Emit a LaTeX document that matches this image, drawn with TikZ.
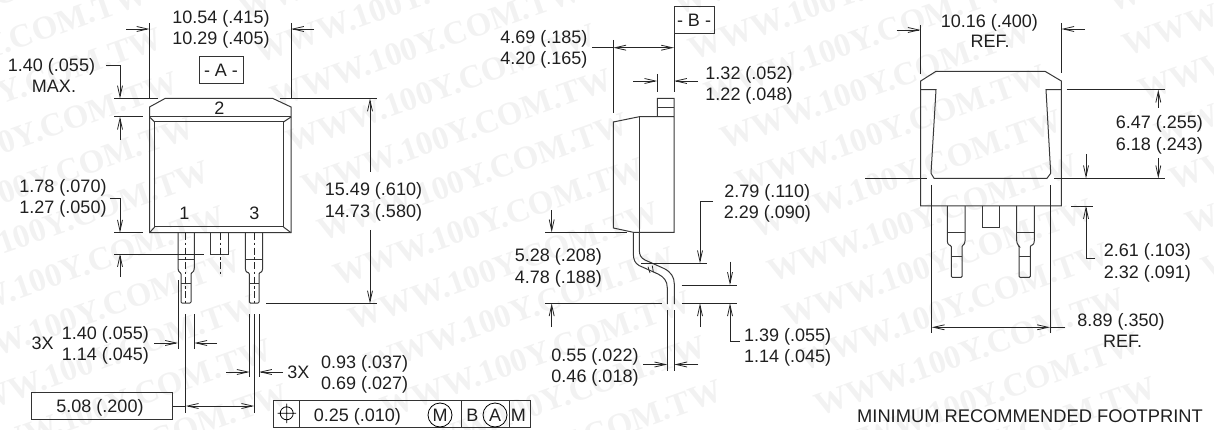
\documentclass[tikz,border=0pt]{standalone}
\usepackage{fontspec}
\setmainfont{Liberation Sans}
\newfontfamily\markfont{Liberation Serif}
\usetikzlibrary{arrows.meta}
\tikzset{
  lbl/.style={inner sep=0pt,text height=13pt,text depth=0pt,text=black!88,font=\fontsize{18}{20}\selectfont},
  outline/.style={line width=1pt,draw=black!78},
  dim/.style={line width=0.8pt,draw=black!85},
  tip/.style={dim,-{Straight Barb[length=11pt,width=5pt]}},
  tips/.style={dim,{Straight Barb[length=11pt,width=5pt]}-{Straight Barb[length=11pt,width=5pt]}},
  centreline/.style={line width=0.8pt,draw=black!85,dash pattern=on 7pt off 2.5pt on 2.5pt off 2.5pt},
  framebox/.style={line width=1pt,draw=black!80},
  wmark/.style={inner sep=0pt,anchor=south west,rotate=19.5,text=black!5,font=\fontsize{33}{35}\selectfont\markfont\bfseries}
}
\begin{document}
\begin{tikzpicture}[x=1pt,y=-1pt]
\clip (0,0) rectangle (1214,430);

% Watermark
\foreach \i/\jfirst/\jlast in {-2/-13/-2,-1/-10/1,0/-7/4,1/-4/2}
  \foreach \j in {\jfirst,...,\jlast}
    \node[wmark] (mark\i\j) at ({788+387*\i+15.7*\j},{328-137*\i+44.5*\j}) {WWW.100Y.COM.TW};

% Left view: body
\draw[outline] (149.5,232.7) -- (149.5,107) -- (165,98.5) -- (273,98.5) -- (291,107) -- (291,232.7) -- cycle;
\draw[outline] (149.5,117) -- (291,117);
\draw[outline] (154.7,227) rectangle (283.5,122);
\draw[outline] (149.5,117) -- (154.7,122) (291,117) -- (283.5,122) (149.5,232.7) -- (154.7,227) (291,232.7) -- (283.5,227);
\draw[outline] (210.7,232.7) -- (210.7,254) -- (228.7,254) -- (228.7,232.7);
\draw[centreline] (220,233) -- (220,274);

% Pins of left and right views
\foreach \wl/\wr/\nl/\nr/\ytop/\ymid/\yn/\ylow/\ybot in {178/194.3/181/191/232.7/259/269/283.3/303,
    245.3/262.7/249.3/259/232.7/259/269/283.3/303,
    947.3/965/951.3/962/206/232.7/241.7/256.7/277.3,
    1016.7/1034.3/1019/1030.3/206/232.7/241.7/256.7/277.3} {
  \draw[outline,rounded corners=1pt] (\wl,\ytop) -- (\wl,\yn) -- ({\wl+1},\yn+3) -- (\nl,\yn+4) -- (\nl,\ybot) -- (\nr,\ybot) -- (\nr,\yn+4) -- ({\wr-1},\yn+3) -- (\wr,\yn) -- (\wr,\ytop);
  \draw[outline] (\wl,\ymid) -- (\wr,\ymid) (\nl,\ylow) -- (\nr,\ylow);
}
\draw[centreline] (185.7,233) -- (185.7,303);
\draw[centreline] (254.2,233) -- (254.2,303);

% Left view: dimensions
\draw[dim] (149.5,23) -- (149.5,98) (291,23) -- (291,98);
\draw[tip] (126,29) -- (149.5,29);
\draw[tip] (314,29) -- (291,29);
\draw[tip] (106,65) -- (120,65) -- (120,98.5);
\draw[dim] (114,98.5) -- (158,98.5) (114,116.7) -- (143,116.7) (280,98.5) -- (377,98.5);
\draw[tip] (120,140) -- (120,116.7);
\draw[tip] (370,172) -- (370,98.5);
\draw[tip] (370,230) -- (370,303.5);
\draw[dim] (266,303.5) -- (377,303.5);
\draw[tip] (110,198) -- (120,198) -- (120,232.7);
\draw[dim] (114,232.7) -- (143,232.7) (114,254) -- (204,254);
\draw[tip] (120,277) -- (120,254);
\draw[dim] (178,280) -- (178,349) (194.3,314) -- (194.3,349);
\draw[dim] (249.7,314) -- (249.7,377) (259,314) -- (259,377);
\draw[dim] (185.7,314) -- (185.7,413) (254.3,314) -- (254.3,413);
\draw[tip] (154,343) -- (178,343);
\draw[tip] (217,343) -- (194.3,343);
\draw[tip] (226,372) -- (249.7,372);
\draw[tip] (283,372) -- (259,372);
\draw[dim] (172.5,406) -- (185.7,406);
\draw[tips] (185.7,406) -- (254.3,406);

% Left view: labels
\node[lbl] (widthA) at (221,17.5) {10.54 (.415)};
\node[lbl] (widthB) at (221,38.5) {10.29 (.405)};
\node[lbl,draw=black!80,line width=1pt,minimum width=44pt,minimum height=26.5pt] (datumA) at (221,70) {- A -};
\node[lbl] (tabA) at (51.5,65) {1.40 (.055)};
\node[lbl] (tabB) at (54,85.7) {MAX.};
\node[lbl] (pinlenA) at (63,186) {1.78 (.070)};
\node[lbl] (pinlenB) at (63,207) {1.27 (.050)};
\node[lbl] (heightA) at (373.5,189.3) {15.49 (.610)};
\node[lbl] (heightB) at (373.5,210.7) {14.73 (.580)};
\node[lbl] (pinone) at (184.3,213) {1};
\node[lbl] (pintwo) at (219.3,107.7) {2};
\node[lbl] (pinthree) at (254.3,213) {3};
\node[lbl] (threeXa) at (42.7,342.7) {3X};
\node[lbl] (pinwA) at (105.3,333.3) {1.40 (.055)};
\node[lbl] (pinwB) at (105.3,354) {1.14 (.045)};
\node[lbl] (threeXb) at (298.3,372) {3X};
\node[lbl] (tipwA) at (364.7,361.7) {0.93 (.037)};
\node[lbl] (tipwB) at (364.7,383.3) {0.69 (.027)};
\node[lbl,draw=black!80,line width=1pt,minimum width=140.5pt,minimum height=27pt] (pitch) at (102.2,406) {};
\node[lbl] (pitchtxt) at (100,406) {5.08 (.200)};

% Tolerance frame
\draw[framebox] (273.3,400) rectangle (530,427);
\draw[framebox] (299.3,400) -- (299.3,427) (461.7,400) -- (461.7,427) (509.3,400) -- (509.3,427);
\draw[line width=0.8pt] (286.7,413.3) circle (6.5pt) (277.5,413.3) -- (296,413.3) (286.7,403.5) -- (286.7,423);
\node[lbl] (tolval) at (357.3,415) {0.25 (.010)};
\node[lbl] (tolM) at (440,415) {M};
\node[lbl] (tolB) at (472.3,415) {B};
\node[lbl] (tolA) at (495,415) {A};
\node[lbl] (tolMb) at (518.3,415) {M};
\draw[line width=0.8pt] (tolM.center) circle (12pt) (tolA.center) circle (12pt);

% Side view: body and lead
\draw[outline] (657.3,116.7) -- (657.3,98.3) -- (674,98.3) -- (674,232.3) -- (633.3,232.3) -- (613.3,228) -- (613.3,122) -- (639.3,116.7) -- (674,116.7);
\draw[outline] (657.3,107.3) -- (674,107.3);
\draw[outline] (639.3,116.7) -- (639.3,232.3);
\draw[outline] (633.3,232.3) -- (633.3,253) .. controls (633.3,260) and (635,263) .. (639,265.5) -- (658,274) .. controls (664,277) and (667.3,281) .. (667.3,288) -- (667.3,304);
\draw[outline] (639.3,232.3) -- (639.3,250) .. controls (639.3,255) and (641,258) .. (645,260) -- (664,268.5) .. controls (671,272) and (674.3,277) .. (674.3,284) -- (674.3,304);
\draw[dim] (648,266.7) -- (650,273) (652.3,265.7) -- (653.3,272);

% Side view: dimensions
\draw[dim] (613.3,40) -- (613.3,113) (674,34) -- (674,92) (657.3,74) -- (657.3,92);
\draw[dim] (592,47.7) -- (613.3,47.7);
\draw[tips] (613.3,47.7) -- (674,47.7);
\draw[tip] (633,81) -- (657.3,81);
\draw[tip] (698,81) -- (674,81);
\draw[dim] (545,232.3) -- (626.7,232.3);
\draw[dim] (641,263.3) -- (706.7,263.3);
\draw[tip] (713,201.7) -- (700,201.7) -- (700,263.3);
\draw[tip] (551.7,210) -- (551.7,232.3);
\draw[tip] (551.7,327) -- (551.7,303.3);
\draw[dim] (545,303.3) -- (661.7,303.3) (681.7,303.3) -- (736.7,303.3) (681.7,285) -- (736.7,285);
\draw[tip] (700,327) -- (700,303.3);
\draw[tip] (730,261.7) -- (730,285);
\draw[tip] (740,341.7) -- (730,341.7) -- (730,303.3);
\draw[dim] (667.3,310) -- (667.3,371) (674.3,310) -- (674.3,371);
\draw[tip] (643.3,364.5) -- (667.3,364.5);
\draw[tip] (698.3,364.5) -- (674.3,364.5);

% Side view: labels
\node[lbl,draw=black!80,line width=1pt,minimum width=40pt,minimum height=27pt] (datumB) at (694,20.5) {- B -};
\node[lbl] (depthA) at (543.8,37.3) {4.69 (.185)};
\node[lbl] (depthB) at (543.8,58) {4.20 (.165)};
\node[lbl] (tabthA) at (749,73.3) {1.32 (.052)};
\node[lbl] (tabthB) at (749,94.3) {1.22 (.048)};
\node[lbl] (offsetA) at (767.3,191) {2.79 (.110)};
\node[lbl] (offsetB) at (767.3,212) {2.29 (.090)};
\node[lbl] (standA) at (558.3,255) {5.28 (.208)};
\node[lbl] (standB) at (558.3,276.7) {4.78 (.188)};
\node[lbl] (leadthA) at (595,355) {0.55 (.022)};
\node[lbl] (leadthB) at (595,376) {0.46 (.018)};
\node[lbl] (footA) at (787.7,335) {1.39 (.055)};
\node[lbl] (footB) at (787.7,356) {1.14 (.045)};

% Footprint view: body
\draw[outline] (920.7,206) -- (920.7,81) -- (936,71.3) -- (1045,71.3) -- (1061.3,81) -- (1061.3,206) -- cycle;
\draw[outline] (920.7,89.7) -- (936,89.7) -- (931,173.3) -- (934,178.3) -- (1047,178.3) -- (1050.7,173.3) -- (1046,89.7) -- (1061.3,89.7);
\draw[outline] (982,206) -- (982,227.3) -- (999.7,227.3) -- (999.7,206);

% Footprint view: dimensions
\draw[dim] (920.7,25) -- (920.7,74) (1061.3,23) -- (1061.3,73);
\draw[tip] (896.7,30) -- (920.7,30);
\draw[tip] (1085,29) -- (1061.3,29);
\draw[dim] (865,178.3) -- (927.3,178.3) (1054,178.3) -- (1164.7,178.3) (1066.7,89.7) -- (1164.7,89.7) (1071,206) -- (1093,206);
\draw[tip] (1158.3,108) -- (1158.3,89.7);
\draw[tip] (1158.3,158) -- (1158.3,178.3);
\draw[tip] (1086,154) -- (1086,178.3);
\draw[tip] (1095,258.3) -- (1086,258.3) -- (1086,206);
\draw[dim] (931.7,185) -- (931.7,333.3) (1050,185) -- (1050,333.3);
\draw[tips] (931.7,327.3) -- (1050,327.3);
\draw[dim] (1050,327.3) -- (1065,327.3);

% Footprint view: labels
\node[lbl] (padA) at (989.3,20.7) {10.16 (.400)};
\node[lbl] (padB) at (990,41) {REF.};
\node[lbl] (padhA) at (1159.3,122.3) {6.47 (.255)};
\node[lbl] (padhB) at (1159.3,144) {6.18 (.243)};
\node[lbl] (gapA) at (1147.3,250) {2.61 (.103)};
\node[lbl] (gapB) at (1147.3,272.3) {2.32 (.091)};
\node[lbl] (spanA) at (1121,320) {8.89 (.350)};
\node[lbl] (spanB) at (1122.7,341) {REF.};
\node[lbl,font=\fontsize{18.3}{20}\selectfont] (caption) at (1030,416) {MINIMUM RECOMMENDED FOOTPRINT};
\end{tikzpicture}
\end{document}
